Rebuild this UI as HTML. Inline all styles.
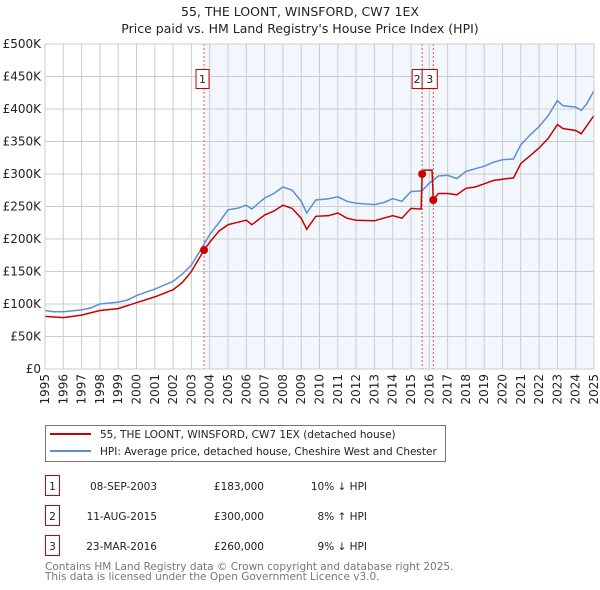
<!DOCTYPE html>
<html><head><meta charset="utf-8"><style>
body{margin:0;background:#fff;font-family:"DejaVu Sans","Liberation Sans",sans-serif;}
svg{display:block}
</style></head><body>
<svg id="c" width="600" height="590" xmlns="http://www.w3.org/2000/svg" font-family="DejaVu Sans, Liberation Sans, sans-serif">
<text x="300" y="16" text-anchor="middle" font-size="12.5" fill="#222">55, THE LOONT, WINSFORD, CW7 1EX</text>
<text x="300" y="33" text-anchor="middle" font-size="12.5" fill="#222">Price paid vs. HM Land Registry's House Price Index (HPI)</text>
<g id="plot"></g>
<g>
<rect x="45.5" y="425.5" width="400" height="36" fill="#fff" stroke="#777"/>
<line x1="50" y1="434" x2="91" y2="434" stroke="#cc0000" stroke-width="2"/>
<text x="100" y="438" font-size="10.5" fill="#222">55, THE LOONT, WINSFORD, CW7 1EX (detached house)</text>
<line x1="50" y1="451" x2="91" y2="451" stroke="#5b8fd4" stroke-width="2"/>
<text x="100" y="455" font-size="10.5" fill="#222">HPI: Average price, detached house, Cheshire West and Chester</text>
</g>
<g font-size="10.5" fill="#222">
<rect x="45.5" y="475.5" width="14" height="20" fill="#fff" stroke="#cc0000"/><text x="52.5" y="490" text-anchor="middle">1</text>
<text x="157" y="490" text-anchor="end">08-SEP-2003</text><text x="264" y="490" text-anchor="end">£183,000</text><text x="367" y="490" text-anchor="end">10% ↓ HPI</text>
<rect x="45.5" y="505.5" width="14" height="20" fill="#fff" stroke="#cc0000"/><text x="52.5" y="520" text-anchor="middle">2</text>
<text x="157" y="520" text-anchor="end">11-AUG-2015</text><text x="264" y="520" text-anchor="end">£300,000</text><text x="367" y="520" text-anchor="end">8% ↑ HPI</text>
<rect x="45.5" y="535.5" width="14" height="20" fill="#fff" stroke="#cc0000"/><text x="52.5" y="550" text-anchor="middle">3</text>
<text x="157" y="550" text-anchor="end">23-MAR-2016</text><text x="264" y="550" text-anchor="end">£260,000</text><text x="367" y="550" text-anchor="end">9% ↓ HPI</text>
</g>
<text x="45" y="570" font-size="10.5" fill="#777">Contains HM Land Registry data © Crown copyright and database right 2025.</text>
<text x="45" y="580" font-size="10.5" fill="#777">This data is licensed under the Open Government Licence v3.0.</text>
</svg>
<script>
const hpiYears=[1995,1995.5,1996,1997,1997.5,1998,1999,1999.5,2000,2001,2002,2002.5,2003,2003.5,2004,2004.5,2005,2005.5,2006,2006.3,2007,2007.5,2008,2008.5,2009,2009.3,2009.8,2010.5,2011,2011.5,2012,2013,2013.5,2014,2014.5,2015,2015.6,2016,2016.5,2017,2017.5,2018,2018.5,2019,2019.5,2020,2020.6,2021,2021.5,2022,2022.5,2023,2023.3,2024,2024.3,2024.6,2025];
const hpiValues=[90,88,88,91,94,100,103,106,113,123,135,146,160,183,207,225,245,247,252,246,263,270,280,275,258,240,260,262,265,258,255,253,256,262,258,273,274,286,297,298,293,304,308,312,318,322,323,345,360,373,390,413,405,403,398,408,428];
const priceYears=[1995,1996,1997,1998,1999,2000,2001,2002,2002.5,2003,2003.69,2004,2004.5,2005,2006,2006.3,2007,2007.5,2008,2008.5,2009,2009.3,2009.8,2010.5,2011,2011.5,2012,2013,2013.5,2014,2014.5,2015,2015.55,2015.61,2015.7,2016.15,2016.22,2016.5,2017,2017.5,2018,2018.5,2019,2019.5,2020,2020.6,2021,2021.5,2022,2022.5,2023,2023.3,2024,2024.3,2024.6,2025];
const priceValues=[81,79,83,90,93,102,111,122,133,150,183,195,212,222,229,222,237,243,252,247,232,215,235,236,240,232,229,228,232,236,232,247,246,300,306,306,260,270,270,268,278,280,285,290,292,294,316,328,340,355,376,370,367,362,374,390];
const saleLabels=["1","2","3"];
const saleYears=[2003.69,2015.61,2016.22];
const saleValues=[183,300,260];
const yTicks=[0,50,100,150,200,250,300,350,400,450,500];
const yTickLabels=["£0","£50K","£100K","£150K","£200K","£250K","£300K","£350K","£400K","£450K","£500K"];
const xTicks=[1995,1996,1997,1998,1999,2000,2001,2002,2003,2004,2005,2006,2007,2008,2009,2010,2011,2012,2013,2014,2015,2016,2017,2018,2019,2020,2021,2022,2023,2024,2025];

const X0=45,X1=594,Y0=369,Y1=44;
const xs=y=>X0+(y-1995)/30*(X1-X0);
const ys=v=>Y0-v/500*(Y0-Y1);
const NS="http://www.w3.org/2000/svg";
const g=document.getElementById('plot');
function mk(t,a){const e=document.createElementNS(NS,t);for(const k in a)e.setAttribute(k,a[k]);g.appendChild(e);return e;}
const shade=mk('rect',{x:xs(saleYears[0]),y:Y1,width:X1-xs(saleYears[0]),height:Y0-Y1,fill:'#eef3fc',opacity:0.75});


yTicks.forEach((t,i)=>{
 const l=mk('line',{x1:X0,x2:X1,y1:ys(t),y2:ys(t),stroke:'#cccccc'});
 
 
 const tx=mk('text',{x:X0-4,y:ys(t)+4,'text-anchor':'end','font-size':12,fill:'#222'});
 tx.textContent=yTickLabels[i];
 
 
});
xTicks.forEach(t=>{
 const l=mk('line',{x1:xs(t),x2:xs(t),y1:Y1,y2:Y0,stroke:'#cccccc'});
 
 
 const tx=mk('text',{x:0,y:0,'text-anchor':'end','font-size':12,fill:'#222',transform:`translate(${xs(t)+4},${Y0+5}) rotate(-90)`});
 tx.textContent=t;
 
 
});
saleYears.forEach((y,i)=>{
 const l=mk('line',{x1:xs(y),x2:xs(y),y1:Y1,y2:Y0,stroke:'#e05555','stroke-dasharray':'2,2','stroke-width':1});
 
 
});
function path(xa,va){return xa.map((y,i)=>(i?'L':'M')+xs(y).toFixed(1)+','+ys(va[i]).toFixed(1)).join('');}
const hp=mk('path',{d:path(hpiYears,hpiValues),fill:'none',stroke:'#5b8fd4','stroke-width':1.5});


const pp=mk('path',{d:path(priceYears,priceValues),fill:'none',stroke:'#cc0000','stroke-width':1.5});


const boxX=[xs(saleYears[0])-8,xs(saleYears[1])-10,xs(saleYears[1])];
const boxW=[13,10,xs(saleYears[2])-xs(saleYears[1])+4];
saleYears.forEach((y,i)=>{
 const c=mk('circle',{cx:xs(y),cy:ys(saleValues[i]),r:4,fill:'#cc0000'});
 
 
 const r=mk('rect',{x:boxX[i],y:69.5,width:boxW[i],height:19,fill:'#fff',stroke:'#cc0000'});
 
 
 const tx=mk('text',{x:boxX[i]+boxW[i]/2,y:83,'text-anchor':'middle','font-size':11,fill:'#222'});
 tx.textContent=saleLabels[i];
 
 
});
const ax=mk('rect',{x:X0,y:Y1,width:X1-X0,height:Y0-Y1,fill:'none',stroke:'#cccccc'});


</script>
</body></html>
